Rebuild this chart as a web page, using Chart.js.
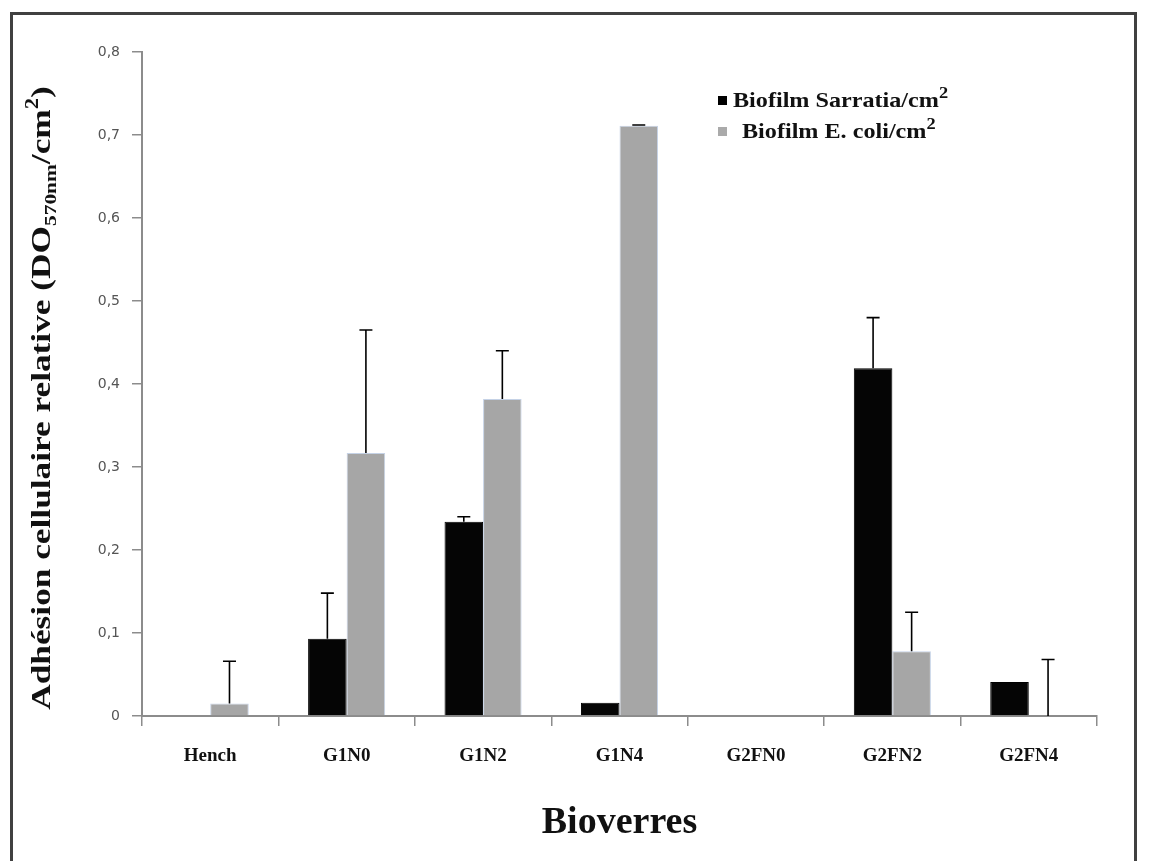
<!DOCTYPE html>
<html>
<head>
<meta charset="utf-8">
<script src="https://cdn.jsdelivr.net/npm/chart.js@4.4.1/dist/chart.umd.min.js"></script>
<style>
  html, body { margin: 0; padding: 0; background: #fff; }
  #wrap { position: relative; width: 1149px; height: 861px; overflow: hidden; }
  #frame {
    position: absolute; left: 10px; top: 12px; width: 1121px; height: 900px;
    border: 3px solid #404040; border-bottom: none;
  }
  canvas { position: absolute; left: 0; top: 0; }
</style>
</head>
<body>
<div id="wrap">
  <div id="frame"></div>
  <canvas id="chart" width="1149" height="861"></canvas>
</div>
<script>
"use strict";

// ─── Data ─────────────────────────────────────────────────────────────────

const CATEGORIES   = ["Hench", "G1N0", "G1N2", "G1N4", "G2FN0", "G2FN2", "G2FN4"];
const SERRATIA     = [0, 0.093, 0.234, 0.016, 0, 0.419, 0.041];
const SERRATIA_ERR = [0, 0.055, 0.006, 0, 0, 0.061, 0];
const ECOLI        = [0.015, 0.317, 0.382, 0.711, 0, 0.078, 0];
const ECOLI_ERR    = [0.051, 0.148, 0.058, 0.001, 0, 0.047, 0.068];
const Y_TICKS      = ["0", "0,1", "0,2", "0,3", "0,4", "0,5", "0,6", "0,7", "0,8"];

const SERIF = "'Liberation Serif', 'Times New Roman', serif";

// ─── Helpers ──────────────────────────────────────────────────────────────

// draws a run of text pieces (for sub/superscripts), starting at x
function drawRuns(ctx, runs, x) {
  for (const r of runs) {
    ctx.font = `bold ${r.size}px ${SERIF}`;
    ctx.fillText(r.t, x, r.dy);
    x += ctx.measureText(r.t).width;
  }
  return x;
}

function runsWidth(ctx, runs) {
  let w = 0;
  for (const r of runs) {
    ctx.font = `bold ${r.size}px ${SERIF}`;
    w += ctx.measureText(r.t).width;
  }
  return w;
}

// ─── Plugins ──────────────────────────────────────────────────────────────

const errorBars = {
  id: "errorBars",
  afterDatasetsDraw(chart) {
    const ctx = chart.ctx;
    const y = chart.scales.y;
    chart.data.datasets.forEach((ds, di) => {
      const meta = chart.getDatasetMeta(di);
      meta.data.forEach((bar, i) => {
        const e = ds.errors[i];
        if (!e) return;
        const top = y.getPixelForValue(ds.data[i] + e);
        ctx.save();
        ctx.strokeStyle = "#000";
        ctx.lineWidth = 1.6;
        ctx.beginPath();
        ctx.moveTo(bar.x, bar.y);
        ctx.lineTo(bar.x, top);
        ctx.moveTo(bar.x - 6.5, top);
        ctx.lineTo(bar.x + 6.5, top);
        ctx.stroke();
        ctx.restore();
      });
    });
  },
};

// y title with subscript / superscript, stretched along the text like the original
const yTitle = {
  id: "yTitle",
  afterDraw(chart) {
    const ctx = chart.ctx;
    const runs = [
      { t: "Adhésion cellulaire relative (DO", size: 28, dy: 0 },
      { t: "570nm", size: 17, dy: 6 },
      { t: "/cm", size: 28, dy: 0 },
      { t: "2", size: 18, dy: -12 },
      { t: ")", size: 28, dy: 0 },
    ];
    ctx.save();
    ctx.fillStyle = "#111";
    ctx.textBaseline = "alphabetic";
    ctx.translate(50, 398);
    ctx.rotate(-Math.PI / 2);
    ctx.scale(1.26, 1);
    const w = runsWidth(ctx, runs);
    drawRuns(ctx, runs, -w / 2);
    ctx.restore();
  },
};

const cornerLegend = {
  id: "cornerLegend",
  afterDraw(chart) {
    const ctx = chart.ctx;
    const rows = [
      { color: "#000", textX: 733, y: 107 },
      { color: "#aaaaaa", textX: 742, y: 138 },
    ];
    ctx.save();
    ctx.textBaseline = "alphabetic";
    chart.data.datasets.forEach((ds, i) => {
      const row = rows[i];
      ctx.fillStyle = row.color;
      ctx.fillRect(718, row.y - 11, 9, 9);
      ctx.fillStyle = "#111";
      ctx.save();
      ctx.translate(row.textX, row.y);
      ctx.scale(1.15, 1);
      drawRuns(ctx, [
        { t: ds.label, size: 21, dy: 0 },
        { t: "2", size: 16, dy: -9 },
      ], 0);
      ctx.restore();
    });
    ctx.restore();
  },
};

// ─── Chart ────────────────────────────────────────────────────────────────

new Chart(document.getElementById("chart").getContext("2d"), {
  type: "bar",
  data: {
    labels: CATEGORIES,
    datasets: [
      {
        label: "Biofilm Sarratia/cm",
        data: SERRATIA,
        errors: SERRATIA_ERR,
        backgroundColor: "#050505",
        borderColor: "#000",
        borderWidth: 1,
      },
      {
        label: "Biofilm E. coli/cm",
        data: ECOLI,
        errors: ECOLI_ERR,
        backgroundColor: "#a6a6a6",
        borderColor: "#c5d2e6",
        borderWidth: 1,
      },
    ],
  },
  options: {
    responsive: false,
    animation: false,
    devicePixelRatio: 1,
    layout: { padding: { top: 52, right: 52, left: 0, bottom: 0 } },
    datasets: { bar: { barPercentage: 1, categoryPercentage: 0.565 } },
    scales: {
      x: {
        afterFit: (s) => { s.height = 145; },
        grid: {
          drawOnChartArea: false,
          tickLength: 10,
          color: "#8c8c8c",
          lineWidth: 1.5,
        },
        border: { color: "#8c8c8c", width: 2 },
        ticks: {
          color: "#111",
          padding: 19,
          font: { family: SERIF, size: 19, weight: "bold" },
        },
        title: {
          display: true,
          text: "Bioverres",
          color: "#111",
          font: { family: SERIF, size: 38, weight: "bold" },
          padding: { top: 0, bottom: 15 },
        },
      },
      y: {
        min: 0,
        max: 0.8,
        afterFit: (s) => { s.width = 142; },
        grid: {
          drawOnChartArea: false,
          tickLength: 10,
          color: "#8c8c8c",
          lineWidth: 1.5,
        },
        border: { color: "#8c8c8c", width: 2 },
        ticks: {
          stepSize: 0.1,
          padding: 12,
          color: "#555",
          font: { family: "'DejaVu Sans', Verdana, sans-serif", size: 14 },
          callback: (v, i) => Y_TICKS[i],
        },
      },
    },
    plugins: {
      legend: { display: false },
      tooltip: { enabled: false },
    },
  },
  plugins: [errorBars, yTitle, cornerLegend],
});
</script>
</body>
</html>
